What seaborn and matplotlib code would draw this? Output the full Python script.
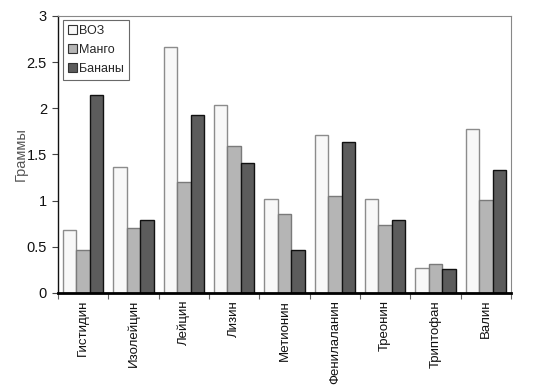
import matplotlib
matplotlib.use("Agg")
import matplotlib.pyplot as plt
import seaborn as sns
import pandas as pd
import numpy as np
from matplotlib.ticker import FixedLocator

categories = ["Гистидин", "Изолейцин", "Лейцин", "Лизин", "Метионин",
              "Фенилаланин", "Треонин", "Триптофан", "Валин"]
series = ["ВОЗ", "Манго", "Бананы"]
voz = [0.68, 1.36, 2.66, 2.04, 1.02, 1.71, 1.02, 0.275, 1.78]
mango = [0.46, 0.70, 1.20, 1.59, 0.85, 1.05, 0.74, 0.31, 1.01]
bananas = [2.14, 0.79, 1.93, 1.41, 0.47, 1.63, 0.79, 0.26, 1.33]
yticks = [0, 0.5, 1, 1.5, 2, 2.5, 3]
ytick_labels = ["0", "0.5", "1", "1.5", "2", "2.5", "3"]

rows = []
for name, vals in zip(series, [voz, mango, bananas]):
    for c, v in zip(categories, vals):
        rows.append({"cat": c, "series": name, "value": v})
df = pd.DataFrame(rows)

sns.set_style("white")
plt.rcParams['font.family'] = ['Liberation Sans', 'DejaVu Sans']

fig = plt.figure(figsize=(5.34, 3.87), dpi=100)
ax = fig.add_axes([0.1086, 0.243, 0.957 - 0.1086, 0.959 - 0.243])

palette = {"ВОЗ": "#f8f8f8", "Манго": "#b5b5b5", "Бананы": "#5c5c5c"}
edges = {"ВОЗ": "#8c8c8c", "Манго": "#7a7a7a", "Бананы": "#111111"}
sns.barplot(data=df, x="cat", y="value", hue="series", order=categories,
            hue_order=series, palette=palette, width=0.8, ax=ax, legend=True)
for cont, name in zip(ax.containers, series):
    for p in cont:
        p.set_edgecolor(edges[name])
        p.set_linewidth(1.0)

ax.set_xlim(-0.5, len(categories) - 0.5)
ax.set_ylim(0, 3)
ax.set_yticks(yticks)
ax.set_yticklabels(ytick_labels, fontsize=10.5, color="#111111")
ax.set_xticks(range(len(categories)))
ax.set_xticklabels(categories, rotation=90, fontsize=9.5, color="#111111")
ax.xaxis.set_minor_locator(FixedLocator(np.arange(-0.5, len(categories), 1.0)))
ax.tick_params(axis="x", which="major", length=0, pad=5)
ax.tick_params(axis="x", which="minor", length=4, width=0.8, color="#666666", direction="out", bottom=True)
ax.tick_params(axis="y", length=4, width=0.8, color="#444444", direction="out", left=True, pad=4)
ax.set_xlabel("")
ax.set_ylabel("Граммы", fontsize=10.5, color="#555555", labelpad=-1)

for s in ["top", "right"]:
    ax.spines[s].set_color("#888888")
    ax.spines[s].set_linewidth(0.8)
ax.spines["left"].set_color("#111111")
ax.spines["left"].set_linewidth(1.0)
ax.spines["bottom"].set_color("#000000")
ax.spines["bottom"].set_linewidth(2.0)

leg = ax.legend(loc="upper left", bbox_to_anchor=(0.005, 0.995), fontsize=9,
                frameon=True, fancybox=False, edgecolor="#444444",
                handlelength=0.7, handleheight=0.7, handletextpad=0.2,
                borderpad=0.4, labelspacing=0.55, borderaxespad=0.2)
leg.get_frame().set_linewidth(0.8)
for h, name in zip(leg.legend_handles, series):
    h.set_edgecolor("#333333")
    h.set_linewidth(0.8)

fig.savefig("out.png", dpi=100)
